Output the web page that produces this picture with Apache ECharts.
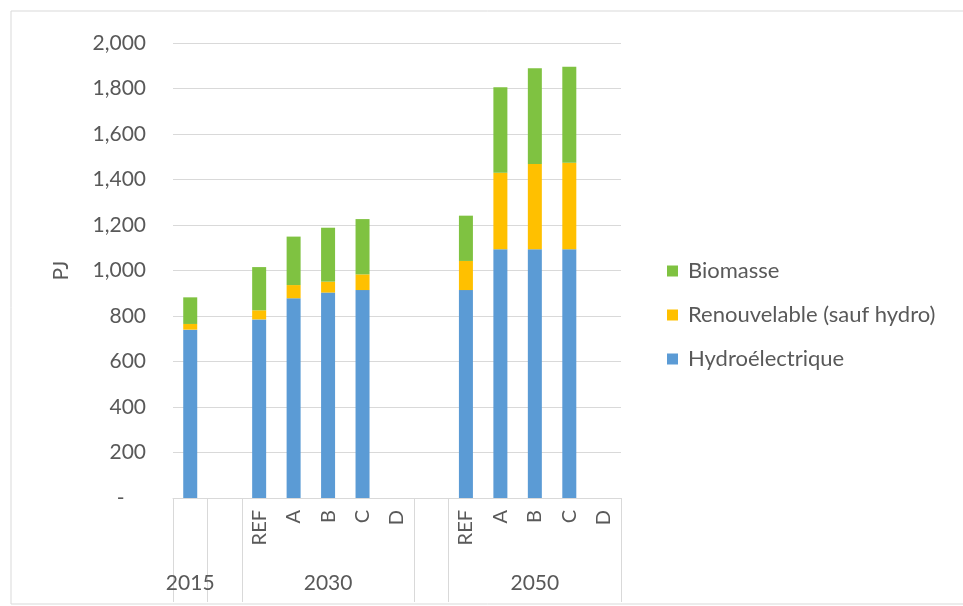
<!DOCTYPE html>
<html>
<head>
<meta charset="utf-8">
<script src="https://cdn.jsdelivr.net/npm/echarts@6/dist/echarts.min.js"></script>
<style>
    html, body { margin: 0; padding: 0; background: #fff; }
    #chart { width: 963px; height: 606px; }
</style>
</head>
<body>
<div id="chart"></div>
<script>
// category levels (13 slots: 2015, gap, 2030 x5, gap, 2050 x5)
const scenarios = ['', '', 'REF', 'A', 'B', 'C', 'D', '', 'REF', 'A', 'B', 'C', 'D'];
const years = ['2015', '', '', '', '2030', '', '', '', '', '', '2050', '', ''];
// slots whose left edge gets a group separator line
const groupStarts = [0, 1, 2, 7, 8];

const hydro = [740, null, 785, 878, 903, 914, null, null, 914, 1093, 1093, 1093, null];
const renouvelable = [25, null, 40, 58, 48, 69, null, null, 128, 337, 375, 381, null];
const biomasse = [117, null, 190, 213, 237, 243, null, null, 199, 375, 421, 422, null];

const yTicks = [0, 200, 400, 600, 800, 1000, 1200, 1400, 1600, 1800, 2000];

window.onload = () => {
    const chart = echarts.init(document.getElementById('chart'));
    const font = 'Lato';
    const grey = '#595959';
    const line = '#d9d9d9';

    let option = {
        backgroundColor: '#fff',
        animation: false,
        textStyle: { fontFamily: font },
        graphic: [{
            type: 'rect',
            shape: { x: 11, y: 11, width: 1000, height: 593 },
            style: { fill: 'none', stroke: line, lineWidth: 1 },
            silent: true
        }],
        legend: {
            orient: 'vertical',
            left: 662,
            top: 255,
            itemWidth: 11,
            itemHeight: 11,
            itemGap: 22,
            icon: 'rect',
            data: ['Biomasse', 'Renouvelable (sauf hydro)', 'Hydroélectrique'],
            textStyle: { fontFamily: font, fontSize: 22, color: grey, lineHeight: 22, padding: [0, 0, 0, 5] }
        },
        grid: { left: 173, right: 342, top: 43, bottom: 108, containLabel: false },
        xAxis: [{
            type: 'category',
            data: scenarios,
            axisLine: { lineStyle: { color: line } },
            axisTick: { show: false },
            axisLabel: { interval: 0, rotate: 90, margin: 12, fontFamily: font, fontSize: 20, color: grey }
        }, {
            type: 'category',
            data: years,
            position: 'bottom',
            axisLine: { show: false },
            axisTick: {
                show: true,
                length: 104,
                interval: (index) => groupStarts.includes(index),
                lineStyle: { color: line }
            },
            axisLabel: { interval: 0, margin: 75, fontFamily: font, fontSize: 21, color: grey }
        }],
        yAxis: {
            type: 'value',
            min: yTicks[0],
            max: yTicks[yTicks.length - 1],
            interval: 200,
            name: 'PJ',
            nameLocation: 'middle',
            nameGap: 101,
            nameTextStyle: { fontFamily: font, fontSize: 21, color: grey },
            axisLine: { show: false },
            axisTick: { show: false },
            splitLine: { lineStyle: { color: line } },
            axisLabel: {
                margin: 27,
                fontFamily: font,
                fontSize: 21,
                color: grey,
                formatter: (v) => v === 0 ? '-    ' : v.toLocaleString('en-US')
            }
        },
        series: [{
            name: 'Hydroélectrique',
            type: 'bar',
            stack: 'total',
            barWidth: 14,
            itemStyle: { color: '#5B9BD5' },
            data: hydro
        }, {
            name: 'Renouvelable (sauf hydro)',
            type: 'bar',
            stack: 'total',
            barWidth: 14,
            itemStyle: { color: '#FFC000' },
            data: renouvelable
        }, {
            name: 'Biomasse',
            type: 'bar',
            stack: 'total',
            barWidth: 14,
            itemStyle: { color: '#7FC241' },
            data: biomasse
        }]
    };

    chart.setOption(option);
};
</script>
</body>
</html>
